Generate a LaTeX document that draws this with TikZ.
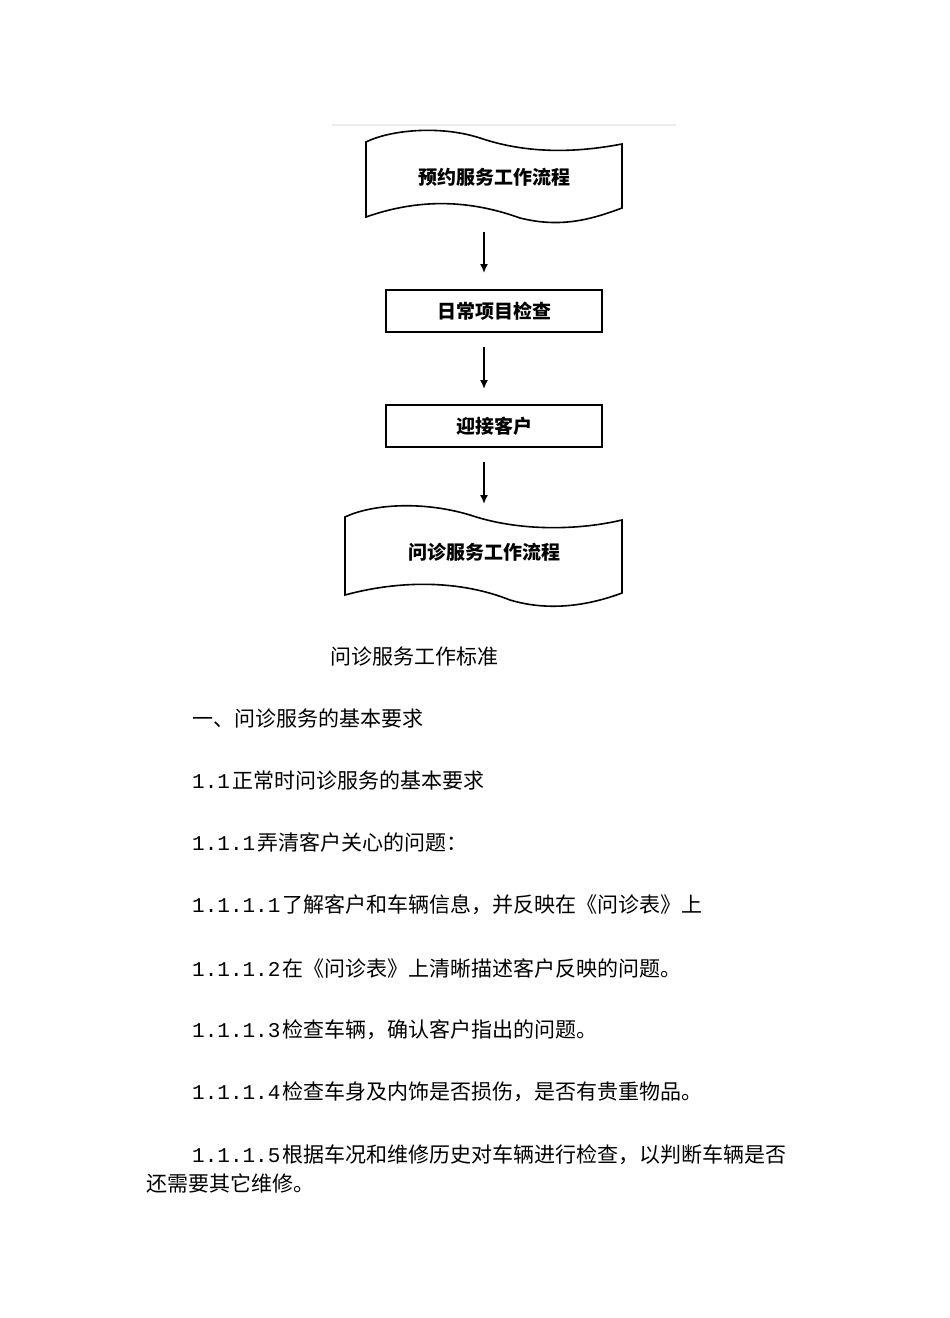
\documentclass[tikz,border=0pt]{standalone}
\usepackage{fontspec}
\usetikzlibrary{arrows.meta}
\setmainfont{Noto Sans CJK SC}
\newfontfamily\numfont{Liberation Mono}
\newcommand{\nm}[1]{{\numfont #1}\hspace{2pt}}
\begin{document}
\begin{tikzpicture}[x=1pt,y=-1pt,
  lbl/.style={font=\fontsize{19}{22}\selectfont\bfseries},
  box/.style={draw,line width=1.6pt,minimum width=216pt,minimum height=42pt,lbl},
  arr/.style={-{Latex[length=9pt,width=8pt]},line width=1.6pt},
  para/.style={anchor=west,inner sep=0pt,font=\fontsize{21}{24}\selectfont}]
\useasboundingbox (0,0) rectangle (950,1318);
\fill[white] (0,0) rectangle (950,1318);
\draw[black!8,line width=1.5pt] (332,125) -- (676,125);
% top tape
\draw[line width=1.6pt] (366,142) .. controls (390,130) and (440,125) .. (480,138)
  .. controls (530,155) and (580,152) .. (622,144) -- (622,208)
  .. controls (590,220) and (560,228) .. (520,218)
  .. controls (470,200) and (420,198) .. (366,217) -- cycle;
\node[lbl] (t1) at (494,177) {预约服务工作流程};
\node[box] (b1) at (494,311) {日常项目检查};
\node[box] (b2) at (494,426) {迎接客户};
% bottom tape
\draw[line width=1.6pt] (345,517) .. controls (370,505) and (420,500) .. (470,515)
  .. controls (520,532) and (580,530) .. (622,520) -- (622,593)
  .. controls (590,605) and (550,612) .. (510,600)
  .. controls (460,580) and (400,580) .. (345,595) -- cycle;
\node[lbl] (t2) at (484,552) {问诊服务工作流程};
\coordinate (a1s) at (484,232); \coordinate (a1e) at (484,273);
\coordinate (a2s) at (484,347); \coordinate (a2e) at (484,389);
\coordinate (a3s) at (484,462); \coordinate (a3e) at (484,504);
\draw[arr] (a1s) -- (a1e);
\draw[arr] (a2s) -- (a2e);
\draw[arr] (a3s) -- (a3e);
\node[para] (p0) at (330,656) {问诊服务工作标准};
\node[para] (p1) at (192,718) {一、问诊服务的基本要求};
\node[para] (p2) at (192,780) {\nm{1.1}正常时问诊服务的基本要求};
\node[para] (p3) at (192,842) {\nm{1.1.1}弄清客户关心的问题：};
\node[para] (p4) at (192,905) {\nm{1.1.1.1}了解客户和车辆信息，并反映在《问诊表》上};
\node[para] (p5) at (192,968) {\nm{1.1.1.2}在《问诊表》上清晰描述客户反映的问题。};
\node[para] (p6) at (192,1030) {\nm{1.1.1.3}检查车辆，确认客户指出的问题。};
\node[para] (p7) at (192,1092) {\nm{1.1.1.4}检查车身及内饰是否损伤，是否有贵重物品。};
\node[para] (p8) at (192,1155) {\nm{1.1.1.5}根据车况和维修历史对车辆进行检查，以判断车辆是否};
\node[para] (p9) at (146,1183) {还需要其它维修。};
\end{tikzpicture}
\end{document}
